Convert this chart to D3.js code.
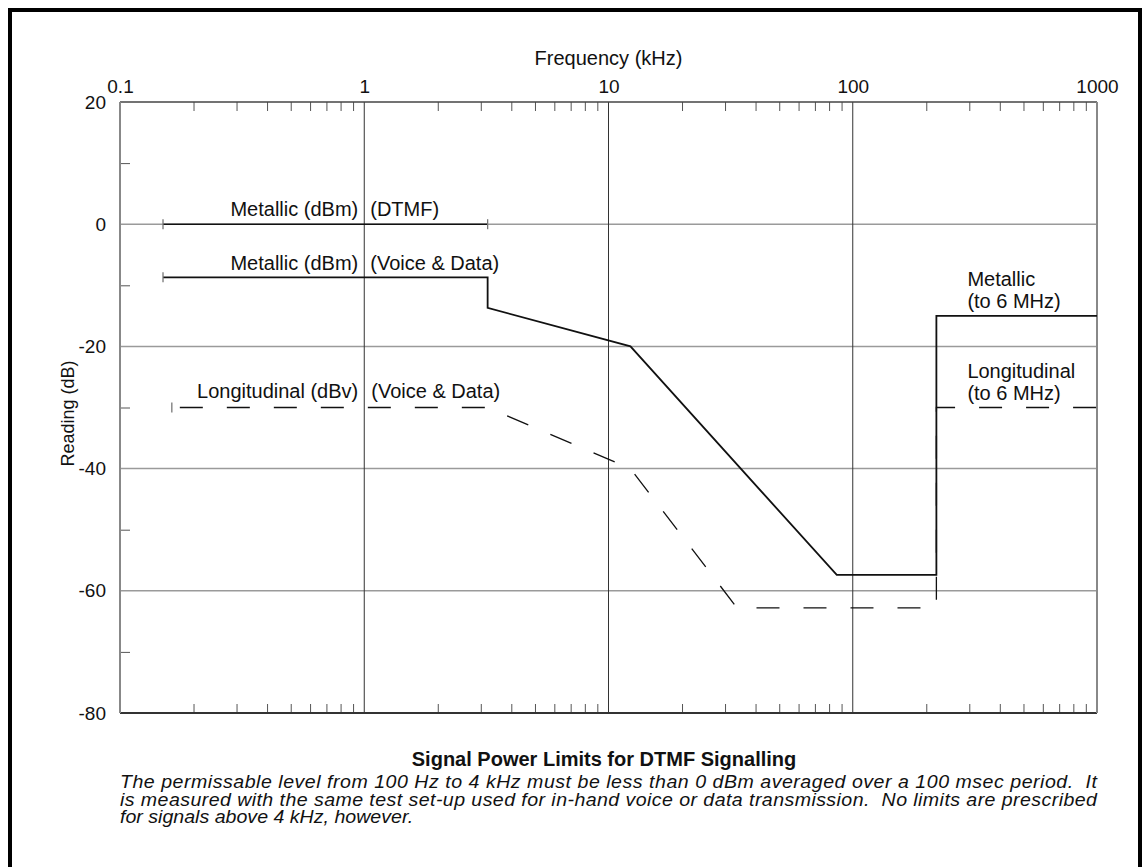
<!DOCTYPE html>
<html>
<head>
<meta charset="utf-8">
<script src="https://cdn.jsdelivr.net/npm/d3@7"></script>
<style>
  html, body { margin: 0; padding: 0; background: #fff; }
  svg { display: block; }
  text { font-family: "Liberation Sans", Arial, Helvetica, sans-serif; fill: #111; }
</style>
</head>
<body>
<svg id="chart" width="1143" height="867"></svg>
<script>
// Axis ticks and labels
const xMajor = [0.1, 1, 10, 100, 1000];
const xMajorLabels = ["0.1", "1", "10", "100", "1000"];
const yMajor = [20, 0, -20, -40, -60, -80];
const yMinor = [10, -10, -30, -50, -70];
const xGrid = [1, 10, 100];
const yGrid = [0, -20, -40, -60];

// Limit curves: [frequency kHz, level dB]
const metallicDtmf = [[0.15, 0], [3.2, 0]];
const metallicVoice = [[0.15, -8.7], [3.2, -8.7], [3.2, -13.7], [12.3, -20], [86, -57.4], [220, -57.4], [220, -15], [1000, -15]];
const longitudinal = [[0.163, -30], [3.2, -30], [12.3, -40], [33.6, -62.8], [220, -62.8], [220, -30], [1000, -30]];

const captionLines = [
  "The permissable level from 100 Hz to 4 kHz must be less than 0 dBm averaged over a 100 msec period.  It",
  "is measured with the same test set-up used for in-hand voice or data transmission.  No limits are prescribed",
  "for signals above 4 kHz, however."
];

const svg = d3.select("#chart");
const L = 120, R = 1097, T = 102, B = 713;

const x = d3.scaleLog().domain([0.1, 1000]).range([L, R]);
const y = d3.scaleLinear().domain([-80, 20]).range([B, T]);

// minor frequency ticks 2..9 in each decade
const xMinor = [];
[0.1, 1, 10, 100].forEach(d => { for (let k = 2; k <= 9; k++) xMinor.push(+(d * k).toPrecision(3)); });

// outer frame
svg.append("path")
  .attr("d", "M10,880 V10 H1140 V880")
  .attr("fill", "none").attr("stroke", "#000").attr("stroke-width", 4);

// gridlines
svg.append("g").selectAll("line").data(yGrid).join("line")
  .attr("x1", L).attr("x2", R).attr("y1", d => y(d)).attr("y2", d => y(d))
  .attr("stroke", "#9a9a9a").attr("stroke-width", 1.5);
svg.append("g").selectAll("line").data(xGrid).join("line")
  .attr("y1", T).attr("y2", B).attr("x1", d => x(d)).attr("x2", d => x(d))
  .attr("stroke", "#333").attr("stroke-width", 1);

// minor ticks (inward) on top, bottom and left
const minorTop = svg.append("g").attr("transform", `translate(0,${T})`)
  .call(d3.axisTop(x).tickValues(xMinor).tickSize(-9).tickFormat(""));
const minorBottom = svg.append("g").attr("transform", `translate(0,${B})`)
  .call(d3.axisBottom(x).tickValues(xMinor).tickSize(-9).tickFormat(""));
const minorLeft = svg.append("g").attr("transform", `translate(${L},0)`)
  .call(d3.axisLeft(y).tickValues(yMinor).tickSize(-10).tickFormat(""));
[minorTop, minorBottom, minorLeft].forEach(g => {
  g.select(".domain").remove();
  g.selectAll(".tick line").attr("stroke", "#555").attr("stroke-width", 1);
});

// major labels
const topAxis = svg.append("g").attr("transform", `translate(0,${T})`)
  .call(d3.axisTop(x).tickValues(xMajor).tickSize(0).tickPadding(9)
    .tickFormat((d, i) => xMajorLabels[i]));
const leftAxis = svg.append("g").attr("transform", `translate(${L},0)`)
  .call(d3.axisLeft(y).tickValues(yMajor).tickSize(0).tickPadding(14).tickFormat(d => String(d)));
[topAxis, leftAxis].forEach(g => {
  g.select(".domain").remove();
  g.selectAll("text").attr("font-size", 19).attr("fill", "#111")
    .attr("font-family", "'Liberation Sans', Arial, sans-serif");
});

// plot border
svg.append("line").attr("x1", L).attr("x2", R).attr("y1", T).attr("y2", T).attr("stroke", "#444").attr("stroke-width", 1.5);
svg.append("line").attr("x1", L).attr("x2", R).attr("y1", B).attr("y2", B).attr("stroke", "#333").attr("stroke-width", 2);
svg.append("line").attr("x1", L).attr("x2", L).attr("y1", T).attr("y2", B).attr("stroke", "#888").attr("stroke-width", 2);
svg.append("line").attr("x1", R).attr("x2", R).attr("y1", T).attr("y2", B).attr("stroke", "#888").attr("stroke-width", 2);

// axis titles
svg.append("text").attr("x", x(10)).attr("y", 65).attr("text-anchor", "middle")
  .attr("font-size", 20).text("Frequency (kHz)");
svg.append("text").attr("transform", `translate(74,${(T + B) / 2 + 6}) rotate(-90)`)
  .attr("text-anchor", "middle").attr("font-size", 18).text("Reading (dB)");

// limit curves
const line = d3.line().x(d => x(d[0])).y(d => y(d[1]));

svg.append("path").datum(metallicDtmf).attr("d", line)
  .attr("fill", "none").attr("stroke", "#111").attr("stroke-width", 1.4);
svg.append("path").datum(metallicVoice).attr("d", line)
  .attr("fill", "none").attr("stroke", "#111").attr("stroke-width", 1.8).attr("stroke-linejoin", "miter");
svg.append("path").datum(longitudinal).attr("d", line)
  .attr("fill", "none").attr("stroke", "#111").attr("stroke-width", 1.3)
  .attr("stroke-dasharray", "23,24").attr("stroke-dashoffset", 39);

// end caps on the low-frequency limits
const caps = [metallicDtmf[0], metallicDtmf[1], metallicVoice[0], longitudinal[0]];
svg.append("g").selectAll("line").data(caps).join("line")
  .attr("x1", d => x(d[0])).attr("x2", d => x(d[0]))
  .attr("y1", d => y(d[1]) - 5).attr("y2", d => y(d[1]) + 5)
  .attr("stroke", "#777").attr("stroke-width", 1.3);

// curve annotations
const ann = svg.append("g").attr("font-size", 20);
const xSplit = x(1);
ann.append("text").attr("x", xSplit - 6).attr("y", y(metallicDtmf[0][1]) - 8).attr("text-anchor", "end").text("Metallic (dBm)");
ann.append("text").attr("x", xSplit + 6).attr("y", y(metallicDtmf[0][1]) - 8).text("(DTMF)");
ann.append("text").attr("x", xSplit - 6).attr("y", y(metallicVoice[0][1]) - 7).attr("text-anchor", "end").text("Metallic (dBm)");
ann.append("text").attr("x", xSplit + 6).attr("y", y(metallicVoice[0][1]) - 7).text("(Voice & Data)");
ann.append("text").attr("x", xSplit - 6).attr("y", y(longitudinal[0][1]) - 10).attr("text-anchor", "end").text("Longitudinal (dBv)");
ann.append("text").attr("x", xSplit + 7).attr("y", y(longitudinal[0][1]) - 10).text("(Voice & Data)");
const xRight = x(220) + 31;
ann.append("text").attr("x", xRight).attr("y", 286).text("Metallic");
ann.append("text").attr("x", xRight).attr("y", 308).text("(to 6 MHz)");
ann.append("text").attr("x", xRight).attr("y", 378).text("Longitudinal");
ann.append("text").attr("x", xRight).attr("y", 400).text("(to 6 MHz)");

// caption: bold title, then a justified italic paragraph set slightly wide
svg.append("text").attr("x", 604).attr("y", 766).attr("text-anchor", "middle")
  .attr("font-size", 20).attr("font-weight", "bold")
  .text("Signal Power Limits for DTMF Signalling");
const sx = 1.12;
const cap = svg.append("g").attr("font-size", 17.5).attr("font-style", "italic");
captionLines.forEach((t, i) => {
  const el = cap.append("text")
    .attr("transform", `translate(${L},${788 + i * 17.6}) scale(${sx},1)`)
    .style("white-space", "pre").text(t);
  if (i < 2) el.attr("textLength", (R - L) / sx).attr("lengthAdjust", "spacing");
});
</script>
</body>
</html>
